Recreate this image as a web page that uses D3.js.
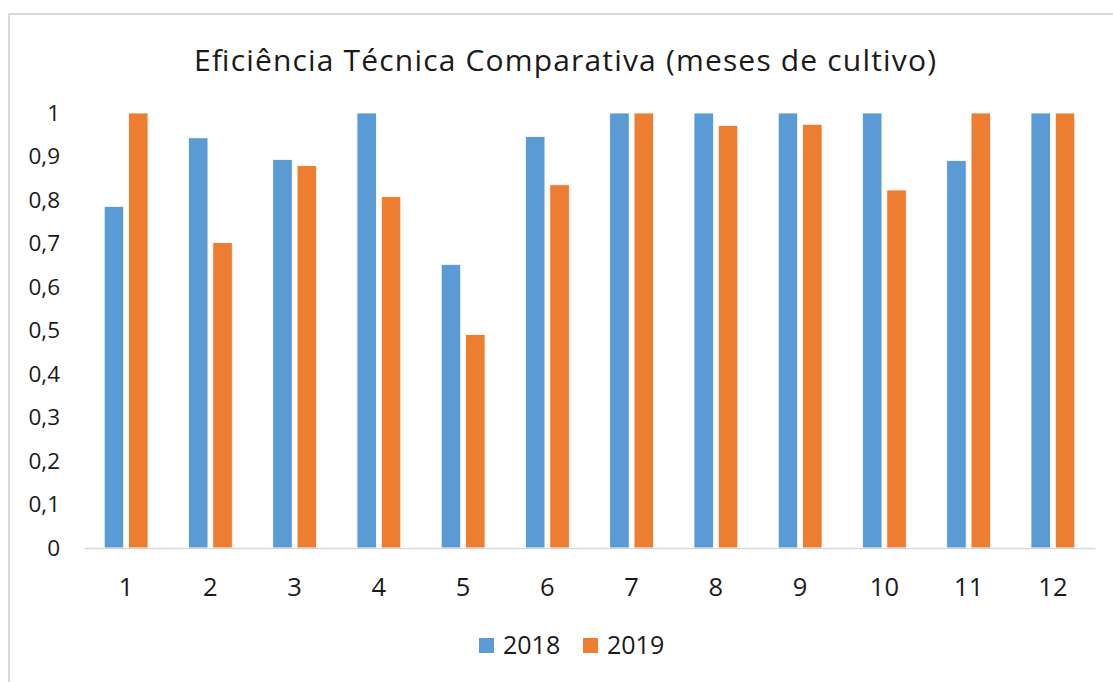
<!DOCTYPE html>
<html>
<head>
<meta charset="utf-8">
<script src="https://cdn.jsdelivr.net/npm/d3@7"></script>
<style>
  body { margin: 0; background: #fff; }
  svg { display: block; font-family: "Open Sans", "Noto Sans", sans-serif; }
</style>
</head>
<body>
<div class="chart"></div>
<script>
// meses de cultivo
let months = ["1", "2", "3", "4", "5", "6", "7", "8", "9", "10", "11", "12"];
let series = ["2018", "2019"];
let values2018 = [0.785, 0.943, 0.893, 1, 0.652, 0.946, 1, 1, 1, 1, 0.891, 1];
let values2019 = [1, 0.702, 0.879, 0.808, 0.491, 0.835, 1, 0.971, 0.974, 0.823, 1, 1];
let yTicks = [0, 0.1, 0.2, 0.3, 0.4, 0.5, 0.6, 0.7, 0.8, 0.9, 1];
let colors = ["#5b9bd5", "#ed7d31"];

let width = 1113, height = 682;
let margin = {top: 113, right: 18, bottom: 134, left: 84};

let svg = d3.select(".chart")
  .append("svg")
    .attr("width", width)
    .attr("height", height);

// chart frame (runs past the right and bottom edges)
svg.append("rect")
  .attr("x", 9).attr("y", 14)
  .attr("width", width + 20).attr("height", height + 20)
  .attr("fill", "none")
  .attr("stroke", "#d9d9d9")
  .attr("stroke-width", 2);

svg.append("text")
  .attr("x", 565)
  .attr("y", 71)
  .attr("text-anchor", "middle")
  .attr("textLength", 742)
  .attr("lengthAdjust", "spacing")
  .style("font-size", "30px")
  .style("fill", "#1a1a1a")
  .text("Eficiência Técnica Comparativa (meses de cultivo)");

let x0 = d3.scaleBand()
  .domain(months)
  .range([margin.left, width - margin.right])
  .paddingInner(0.48)
  .paddingOuter(0.24);

let x1 = d3.scaleBand()
  .domain(series)
  .range([0, x0.bandwidth()])
  .paddingInner(0.2);

let y = d3.scaleLinear()
  .domain([0, 1])
  .range([height - margin.bottom, margin.top]);

let rows = months.map((m, i) => ({month: m, vals: [values2018[i], values2019[i]]}));

let groups = svg.append("g")
  .selectAll("g")
  .data(rows)
  .enter()
  .append("g")
    .attr("transform", d => "translate(" + x0(d.month) + ",0)");

groups.selectAll("rect")
  .data(d => d.vals.map((v, j) => ({key: series[j], value: v, color: colors[j]})))
  .enter()
  .append("rect")
    .attr("x", d => x1(d.key))
    .attr("y", d => y(d.value))
    .attr("width", x1.bandwidth())
    .attr("height", d => y(0) - y(d.value))
    .attr("fill", d => d.color)
    .attr("stroke", "#fff")
    .attr("stroke-width", 0.8);

// y axis labels
let yAxis = svg.append("g")
  .attr("transform", "translate(" + margin.left + ",0)")
  .call(d3.axisLeft(y).tickValues(yTicks).tickSize(0).tickPadding(24)
    .tickFormat(d => d3.format(".1~f")(d).replace(".", ",")));
yAxis.select(".domain").remove();
yAxis.selectAll("text")
  .style("font-size", "22.5px")
  .style("font-family", "Open Sans, sans-serif")
  .style("fill", "#1a1a1a");

// x axis
let xAxis = svg.append("g")
  .attr("transform", "translate(0," + y(0) + ")")
  .call(d3.axisBottom(x0).tickSize(0).tickPadding(30));
xAxis.select(".domain")
  .attr("stroke", "#d9d9d9")
  .attr("stroke-width", 1.5);
xAxis.selectAll("text")
  .style("font-size", "25.5px")
  .style("font-family", "Open Sans, sans-serif")
  .style("fill", "#1a1a1a");

// legend
let legendX = [479, 583];
let legend = svg.append("g")
  .selectAll("g")
  .data(series)
  .enter()
  .append("g")
    .attr("transform", (d, i) => "translate(" + legendX[i] + ",638)");
legend.append("rect")
  .attr("width", 15).attr("height", 15)
  .attr("fill", (d, i) => colors[i]);
legend.append("text")
  .attr("x", 24)
  .attr("y", 16)
  .style("font-size", "25px")
  .style("fill", "#1a1a1a")
  .text(d => d);
</script>
</body>
</html>
